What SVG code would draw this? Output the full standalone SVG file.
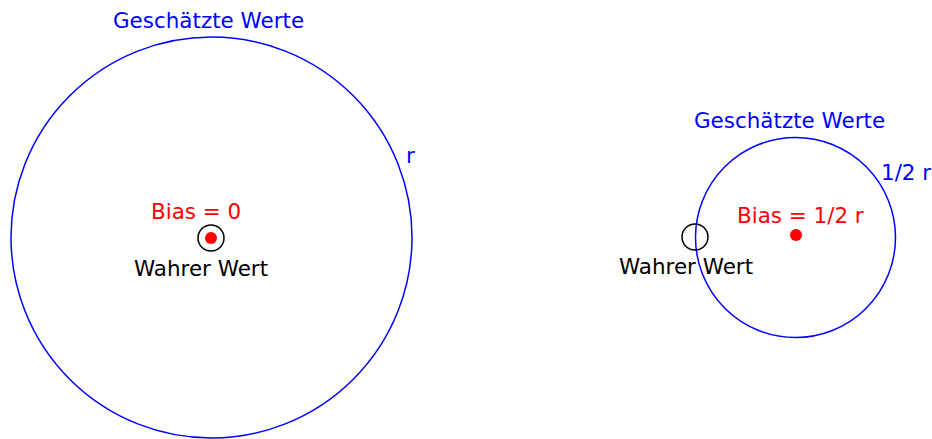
<svg xmlns="http://www.w3.org/2000/svg" width="932" height="439" viewBox="0 0 932 439">
<style>
text{font-family:"DejaVu Sans",sans-serif;font-size:21.45px}
.b{fill:#0000ff}.rd{fill:#ff0000}.k{fill:#000}
.ring{fill:none;stroke:#0000ff;stroke-width:1.5}
.tv{fill:none;stroke:#000;stroke-width:1.5}
</style>
<rect width="932" height="439" fill="#fff"/>
<g id="left">
<circle class="ring" cx="211.5" cy="237.5" r="200.5"/>
<text class="b" x="113" y="28">Geschätzte Werte</text>
<text class="b" x="406" y="163">r</text>
<circle class="tv" cx="211" cy="238" r="13"/>
<circle cx="211" cy="238" r="6" fill="#ff0000"/>
<text class="rd" x="151" y="219">Bias = 0</text>
<text class="k" x="134" y="276">Wahrer Wert</text>
</g>
<g id="right">
<circle class="ring" cx="795.5" cy="237.5" r="100"/>
<text class="b" x="694" y="128">Geschätzte Werte</text>
<text class="b" x="881" y="180">1/2 r</text>
<circle class="tv" cx="695" cy="237" r="13"/>
<circle cx="796" cy="235" r="6" fill="#ff0000"/>
<text class="rd" x="737" y="223">Bias = 1/2 r</text>
<text class="k" x="619" y="274">Wahrer Wert</text>
</g>
<g id="connectors"/>
</svg>
